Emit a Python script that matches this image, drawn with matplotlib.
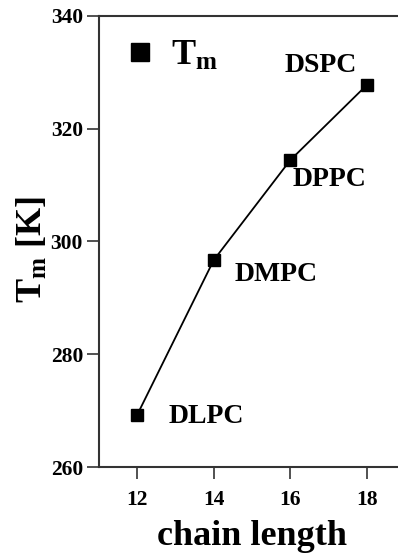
import matplotlib
matplotlib.use("Agg")
from matplotlib import pyplot as plt

# data
chain = [12, 14, 16, 18]
tm = [269.3, 296.7, 314.4, 327.7]
lipids = ["DLPC", "DMPC", "DPPC", "DSPC"]
# label offsets in points (dx, dy) from each point
offsets = [(50, -1.5), (45, -10), (28, -14), (-33, 14)]

plt.rcParams['font.family'] = ['Liberation Serif', 'DejaVu Serif']
plt.rcParams['font.weight'] = 'bold'
plt.rcParams['mathtext.fontset'] = 'custom'
plt.rcParams['mathtext.rm'] = 'Liberation Serif:bold'
plt.rcParams['mathtext.it'] = 'Liberation Serif:bold'
plt.rcParams['mathtext.bf'] = 'Liberation Serif:bold'

fig = plt.figure(figsize=(3.98, 5.54), dpi=100)
ax = fig.add_axes([0.2487, 0.1565, 0.7688, 0.8152])

ax.plot(chain, tm, '-ks', lw=1.3, ms=8.5, label=r'$\mathrm{T_m}$')

for x, y, name, (dx, dy) in zip(chain, tm, lipids, offsets):
    ax.annotate(name, (x, y), xytext=(dx, dy), textcoords='offset points',
                ha='center', va='center', fontsize=20, fontweight='bold')

ax.set_xlim(11, 19)
ax.set_ylim(260, 340)
ax.set_xticks([12, 14, 16, 18])
ax.set_yticks([260, 280, 300, 320, 340])
ax.tick_params(direction='out', length=8.5, width=1.2, labelsize=15.5, color='#333333')
ax.tick_params(axis='x', pad=8)
ax.tick_params(axis='y', pad=3)
for s in ax.spines.values():
    s.set_linewidth(1.5)
    s.set_color('#333333')
ax.spines['right'].set_visible(False)

ax.set_xlabel('chain length', fontsize=26, fontweight='bold', labelpad=7)
ax.set_ylabel(r'$\mathrm{T_m}$ [K]', fontsize=26, fontweight='bold')
ax.yaxis.set_label_coords(-0.16, 0.483)

leg = ax.legend(loc='upper left', bbox_to_anchor=(-0.02, 1.02), frameon=False,
                prop={'size': 26, 'weight': 'bold'}, handlelength=0.8,
                handletextpad=0.45, markerscale=1.6)
for h in leg.legend_handles:
    h.set_linestyle('none')

plt.savefig('out.png', dpi=100)
